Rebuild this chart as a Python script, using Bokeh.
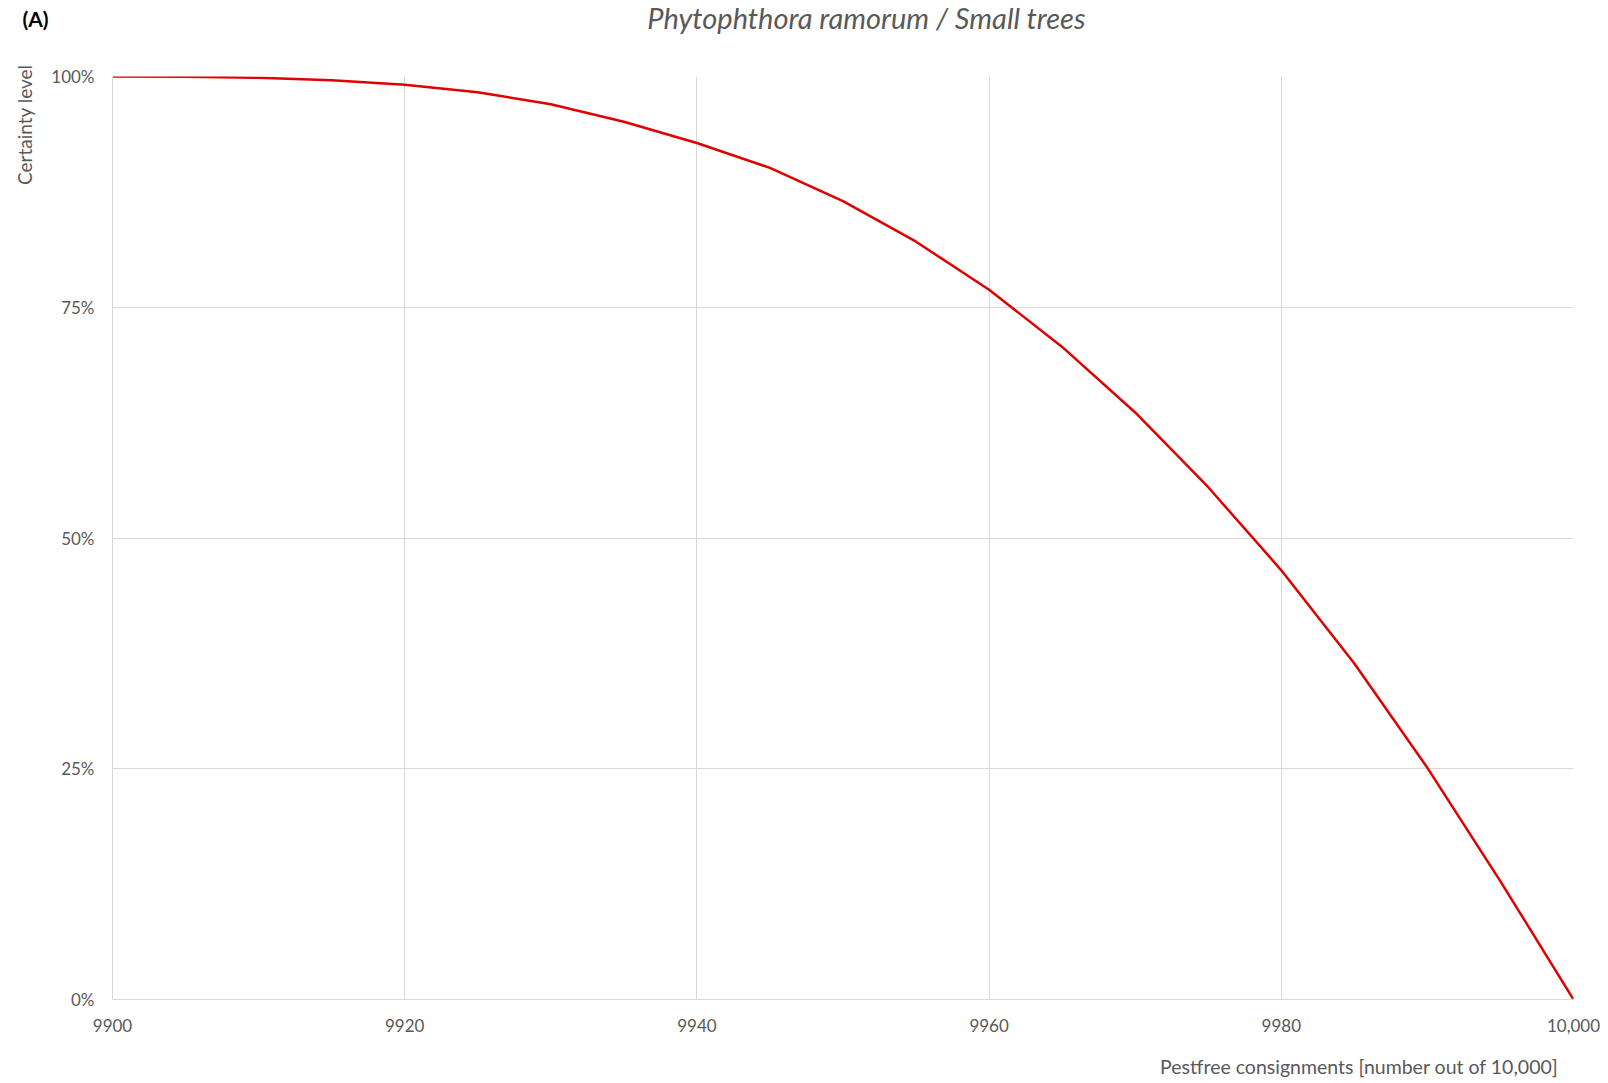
from bokeh.plotting import figure
from bokeh.layouts import column
from bokeh.models import Range1d, FixedTicker, Title, NumeralTickFormatter, ColumnDataSource
from bokeh.core.properties import value
from bokeh.embed import file_html
from bokeh.resources import INLINE

# Data
pestfree = [9900, 9905, 9910, 9915, 9920, 9925, 9930, 9935, 9940, 9945, 9950,
            9955, 9960, 9965, 9970, 9975, 9980, 9985, 9990, 9995, 10000]
certainty = [1.000, 0.9998, 0.9987, 0.996, 0.991, 0.983, 0.970, 0.951, 0.928,
             0.901, 0.865, 0.821, 0.769, 0.707, 0.636, 0.555, 0.465, 0.364,
             0.251, 0.128, 0.000]
x_ticks = [9900, 9920, 9940, 9960, 9980, 10000]
x_tick_labels = ["9900", "9920", "9940", "9960", "9980", "10,000"]
y_ticks = [0, 0.25, 0.5, 0.75, 1.0]

title_text = "Phytophthora ramorum / Small trees"
panel_text = "(A)"
x_label = "Pestfree consignments [number out of 10,000]"
y_label = "Certainty level"

FONT = "Lato"
GREY = "#595959"
GRID = "#d9d9d9"
W = 1600
HEAD_H, MAIN_H, FOOT_H = 50, 989, 42


def blank(h):
    f = figure(width=W, height=h, output_backend="svg", toolbar_location=None,
               x_range=Range1d(0, W), y_range=Range1d(h, 0),
               x_axis_type=None, y_axis_type=None, min_border=0)
    f.outline_line_color = None
    f.grid.visible = False
    f.frame_align = False
    return f


# header: panel letter and title
head = blank(HEAD_H)
head.text(x=[22], y=[18], text=[panel_text], text_font=value(FONT), text_font_style="bold",
          text_font_size="21px", text_color="black", text_align="left", text_baseline="middle")
head.text(x=[866], y=[17], text=[title_text], text_font=value(FONT), text_font_style="italic",
          text_font_size="29px", text_color=GREY, text_align="center", text_baseline="middle")

# main chart
p = figure(width=W, height=MAIN_H, output_backend="svg", toolbar_location=None,
           x_range=Range1d(9900, 10000), y_range=Range1d(0, 1),
           min_border_left=112, min_border_right=27, min_border_top=26, min_border_bottom=40)
p.outline_line_color = None

src = ColumnDataSource(dict(x=pestfree, y=certainty))
p.line("x", "y", source=src, line_color="#e00000", line_width=2.5)

for ax in (p.xaxis[0], p.yaxis[0]):
    ax.axis_line_color = GRID
    ax.axis_line_width = 1
    ax.major_tick_line_color = None
    ax.minor_tick_line_color = None
    ax.major_label_text_font = FONT
    ax.major_label_text_font_size = "17px"
    ax.major_label_text_color = GREY

p.xaxis.ticker = FixedTicker(ticks=x_ticks)
p.xaxis.major_label_overrides = {t: l for t, l in zip(x_ticks, x_tick_labels)}
p.xaxis.major_label_standoff = 13
p.yaxis.ticker = FixedTicker(ticks=y_ticks)
p.yaxis.formatter = NumeralTickFormatter(format="0%")
p.yaxis.major_label_standoff = 12

p.xgrid.grid_line_color = GRID
p.ygrid.grid_line_color = GRID

p.add_layout(Title(text=y_label, text_font=FONT, text_font_style="normal",
                   text_font_size="19px", text_color=GREY, align="right",
                   vertical_align="middle", offset=-12, standoff=23), "left")

# footer: x-axis title
foot = blank(FOOT_H)
foot.text(x=[1558], y=[27], text=[x_label], text_font=value(FONT), text_font_size="19.5px",
          text_color=GREY, text_align="right", text_baseline="middle")

layout = column(head, p, foot, spacing=0)
open("out.html", "w").write(file_html(layout, INLINE))
